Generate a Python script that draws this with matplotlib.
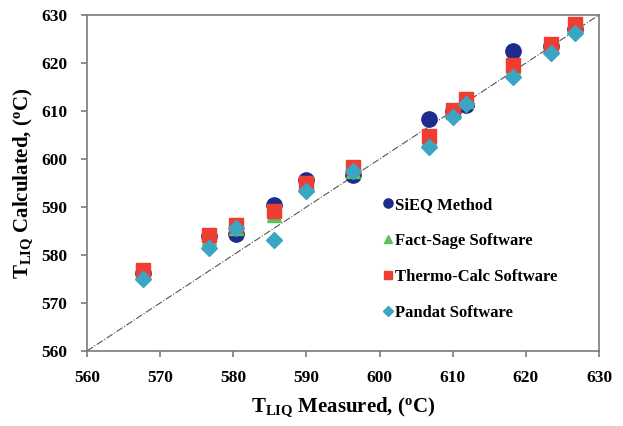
import matplotlib
matplotlib.use('Agg')
import matplotlib.pyplot as plt
import numpy as np

plt.rcParams['font.family'] = 'Liberation Serif'
plt.rcParams['font.weight'] = 'bold'
plt.rcParams['mathtext.fontset'] = 'custom'
plt.rcParams['mathtext.rm'] = 'Liberation Serif:bold'
plt.rcParams['mathtext.it'] = 'Liberation Serif:bold'
plt.rcParams['mathtext.bf'] = 'Liberation Serif:bold'

# measured liquidus temperatures (oC)
measured = [567.7, 576.7, 580.4, 585.5, 590.0, 596.3, 606.8, 610.1, 611.8, 618.3, 623.4, 626.7]
# calculated values
sieq = [576.2, 584.0, 584.3, 590.5, 595.6, 596.7, 608.3, 610.0, 611.2, 622.6, 623.5, 627.0]
factsage = [576.3, 583.6, 585.6, 588.3, 594.6, 597.6, 604.4, 609.8, 612.0, 619.2, 623.6, 627.6]
thermocalc = [576.9, 584.2, 586.2, 589.2, 595.0, 598.4, 604.8, 610.2, 612.5, 619.6, 623.9, 628.1]
pandat = [574.9, 581.4, 585.7, 583.1, 593.3, 597.6, 602.6, 608.7, 611.5, 617.1, 622.1, 626.2]

lim = [560, 630]

fig = plt.figure(figsize=(6.23, 4.26), dpi=100)
ax = fig.add_axes([0.1396, 0.176, 0.8219, 0.7888])

ax.plot(lim, lim, color='#555555', ls='-.', lw=0.8, zorder=1)
ax.plot(measured, sieq, 'o', ms=11, color='#1c2b8c', label='SiEQ Method', zorder=2)
ax.plot(measured, factsage, '^', ms=10, color='#5cbf5a', label='Fact-Sage Software', zorder=3)
ax.plot(measured, thermocalc, 's', ms=10, color='#ee3d32', label='Thermo-Calc Software', zorder=4)
ax.plot(measured, pandat, 'D', ms=8, color='#3ba6c4', label='Pandat Software', zorder=5)

ax.set_xlim(lim)
ax.set_ylim(lim)
ax.set_xticks(np.arange(560, 631, 10))
ax.set_yticks(np.arange(560, 631, 10))
for s in ax.spines.values():
    s.set_color('#7a7a7a')
    s.set_linewidth(1.2)
ax.tick_params(direction='out', length=4, width=1.2, color='#7a7a7a', labelsize=12.5, pad=10)

ax.set_xlabel(r'T$_{\mathrm{LIQ}}$ Measured, ($^{\mathrm{o}}$C)', fontsize=15, fontweight='bold', labelpad=6)
ax.set_ylabel(r'T$_{\mathrm{LIQ}}$ Calculated, ($^{\mathrm{o}}$C)', fontsize=15, fontweight='bold', labelpad=5)

leg = ax.legend(loc='upper left', bbox_to_anchor=(0.565, 0.478), frameon=False, fontsize=12,
                markerscale=0.6, handlelength=0.6, handletextpad=0.15, labelspacing=1.2,
                borderaxespad=0)

fig.savefig('out.png', dpi=100)
